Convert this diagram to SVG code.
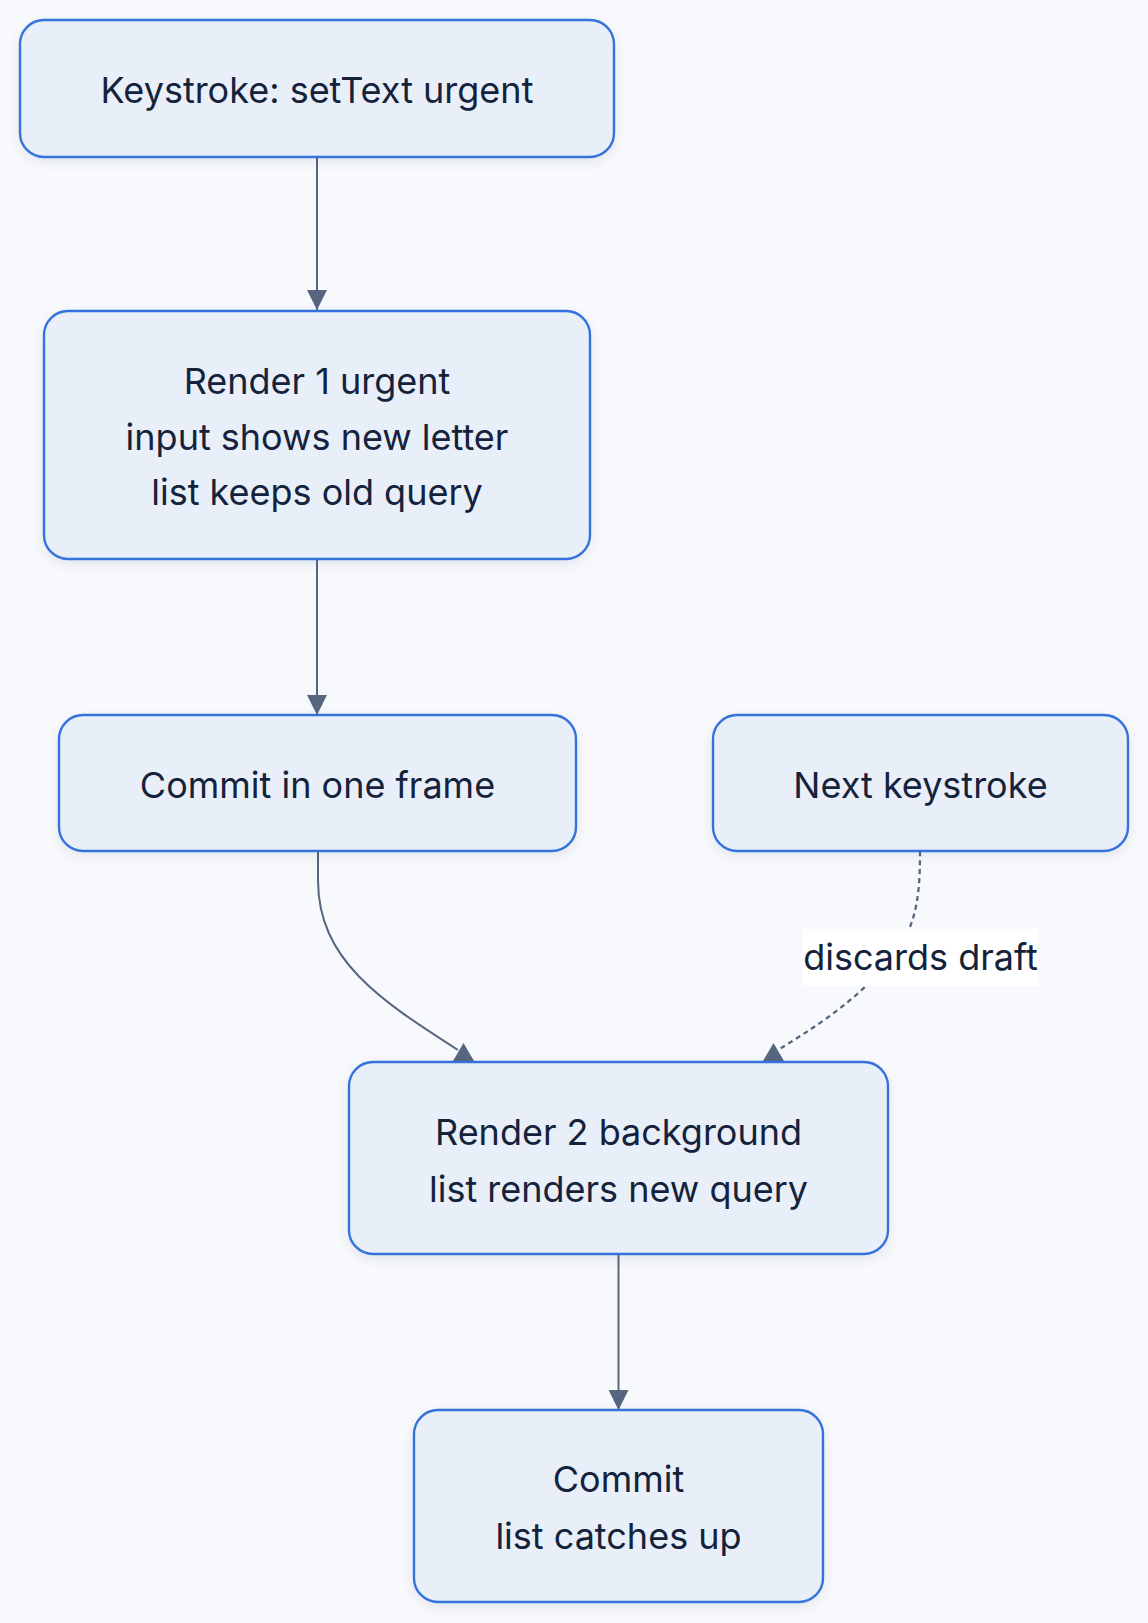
<svg xmlns="http://www.w3.org/2000/svg" width="1148" height="1623" viewBox="0 0 1148 1623">
  <style>
    .node rect { fill: #e8eff9; stroke: #3572dc; stroke-width: 2.4; filter: url(#shadow); }
    .node text, .label text { font-family: Inter, "Noto Sans", "Liberation Sans", sans-serif; font-size: 36px; fill: #15223b; text-anchor: middle; }
    .edge { fill: none; stroke: #56667f; stroke-width: 2; }
    .dashed { stroke-width: 2.3; stroke-dasharray: 5 4; }
    .head { fill: #56667f; }
  </style>
  <defs>
    <filter id="shadow" x="-10%" y="-10%" width="120%" height="130%">
      <feDropShadow dx="0" dy="4" stdDeviation="6" flood-color="#1e2a44" flood-opacity="0.08"/>
    </filter>
    <marker id="arrow" viewBox="0 0 20 20" refX="20" refY="10" markerWidth="20" markerHeight="20" markerUnits="userSpaceOnUse" orient="auto">
      <path d="M0,0 L20,10 L0,20 z" fill="#56667f"/>
    </marker>
    <path id="tri-up" d="M0,-18 L10.5,0 L-10.5,0 z"/>
  </defs>
  <rect width="1148" height="1623" fill="#f7f9fc"/>

  <g id="connectors">
    <path class="edge" d="M317,157 L317,310" marker-end="url(#arrow)"/>
    <path class="edge" d="M317,559 L317,715" marker-end="url(#arrow)"/>
    <path class="edge" d="M318,851 L318,880 C318,960 380,1000 458,1050"/>
    <use href="#tri-up" class="head" x="463.5" y="1061"/>
    <path class="edge dashed" d="M920,851 C920,905 915,935 880,972 S810,1030 778,1050"/>
    <use href="#tri-up" class="head" x="773.5" y="1061"/>
    <path class="edge" d="M618.5,1254 L618.5,1410" marker-end="url(#arrow)"/>
    <g class="label">
      <rect x="803" y="929" width="235" height="57" fill="#ffffff"/>
      <text x="920.5" y="970">discards draft</text>
    </g>
  </g>

  <g id="n1" class="node">
    <rect x="20" y="20" width="594" height="137" rx="24"/>
    <text x="317" y="103">Keystroke: setText urgent</text>
  </g>
  <g id="n2" class="node">
    <rect x="44" y="311" width="546" height="248" rx="24"/>
    <text x="317" y="394">Render 1 urgent</text>
    <text x="317" y="450">input shows new letter</text>
    <text x="317" y="505">list keeps old query</text>
  </g>
  <g id="n3" class="node">
    <rect x="59" y="715" width="517" height="136" rx="24"/>
    <text x="317.5" y="798">Commit in one frame</text>
  </g>
  <g id="n4" class="node">
    <rect x="713" y="715" width="415" height="136" rx="24"/>
    <text x="920.5" y="798">Next keystroke</text>
  </g>
  <g id="n5" class="node">
    <rect x="349" y="1062" width="539" height="192" rx="24"/>
    <text x="618.5" y="1145">Render 2 background</text>
    <text x="618.5" y="1202">list renders new query</text>
  </g>
  <g id="n6" class="node">
    <rect x="414" y="1410" width="409" height="192" rx="24"/>
    <text x="618.5" y="1492">Commit</text>
    <text x="618.5" y="1549">list catches up</text>
  </g>
</svg>
